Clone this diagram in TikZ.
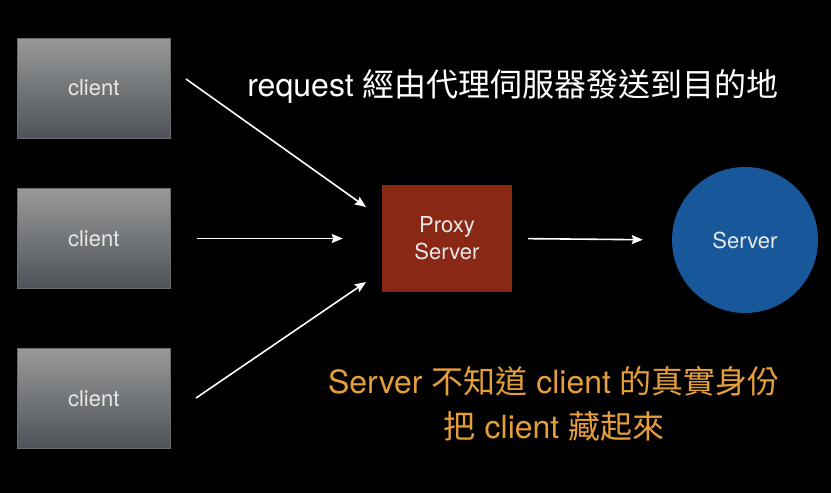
\documentclass[tikz,border=0pt]{standalone}
\usepackage{fontspec}
\setmainfont{TeX Gyre Heros}
\newfontfamily\cjk{Noto Sans CJK TC}
\usetikzlibrary{arrows.meta}
\definecolor{clienttop}{RGB}{152,154,154}
\definecolor{clientbot}{RGB}{78,82,88}
\definecolor{clientedge}{RGB}{105,107,110}
\definecolor{proxyred}{RGB}{138,40,22}
\definecolor{serverblue}{RGB}{24,88,154}
\definecolor{orangetxt}{RGB}{228,158,58}
\definecolor{lighttxt}{RGB}{232,232,232}
\begin{document}
\begin{tikzpicture}[x=1pt,y=-1pt,
  clientbox/.style={draw=clientedge, line width=0.8pt, top color=clienttop, bottom color=clientbot,
    minimum width=153pt, minimum height=100pt, inner sep=0pt, text=lighttxt,
    font=\fontsize{22}{26}\selectfont},
  proxybox/.style={fill=proxyred, minimum width=130pt, minimum height=107pt, inner sep=0pt,
    text=lighttxt, align=center, font=\fontsize{22}{27}\selectfont},
  serverdisk/.style={circle, fill=serverblue, minimum size=146pt, inner sep=0pt, text=lighttxt,
    font=\fontsize{22}{26}\selectfont},
  flow/.style={draw=white, line width=1.6pt, -{Stealth[length=11pt,width=9pt,inset=1.5pt]}},
  caption/.style={anchor=base, font=\fontsize{32}{45}\selectfont, inner sep=0pt}]
\fill[black] (0,0) rectangle (831,493);
\useasboundingbox (0,0) rectangle (831,493);

\node[clientbox] (c1) at (93.7,88) {client};
\node[clientbox] (c2) at (93.7,238.5) {client};
\node[clientbox] (c3) at (93.7,398.5) {client};
\node[proxybox] (proxy) at (447,238.5) {Proxy\\Server};
\node[serverdisk] (server) at (745,240) {Server};

\coordinate (a1s) at (186,79);
\coordinate (a1e) at (366,207);
\coordinate (a3s) at (196,398);
\coordinate (a3e) at (366,282);

\draw[flow] (a1s) -- (a1e);
\draw[flow, shorten <=26pt, shorten >=39pt] (c2.east) -- (proxy.west);
\draw[flow] (a3s) -- (a3e);
\draw[flow, shorten <=16pt, shorten >=29pt] (proxy.east) -- (server.west);

\node[caption, text=white] (req) at (513,96) {request {\cjk 經由代理伺服器發送到目的地}};
\node[caption, text=orangetxt] (hide1) at (554,393) {Server {\cjk 不知道} client {\cjk 的真實身份}};
\node[caption, text=orangetxt] (hide2) at (554,438) {{\cjk 把} client {\cjk 藏起來}};
\end{tikzpicture}
\end{document}
